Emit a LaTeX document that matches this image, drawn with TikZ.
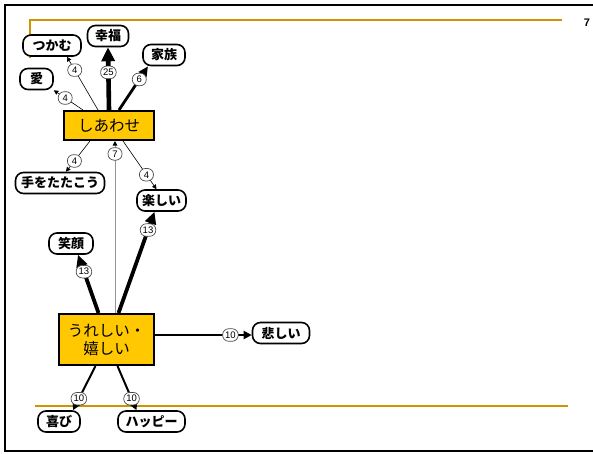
\documentclass[tikz,border=0pt]{standalone}
\usepackage{fontspec}
\setmainfont{Liberation Sans}
\newfontfamily\jp{Noto Sans CJK JP}
\usetikzlibrary{arrows.meta}
\definecolor{hubfill}{RGB}{255,200,0}
\definecolor{rulecol}{RGB}{205,150,0}
\definecolor{weakline}{RGB}{150,150,150}
\tikzset{
  hub/.style={draw=black, line width=2pt, fill=hubfill, font=\jp\fontsize{15.5}{18}\selectfont, inner sep=0pt},
  leaf/.style={draw=black, line width=1.6pt, fill=white, rounded corners=8pt,
    font=\jp\bfseries\fontsize{13}{15}\selectfont, minimum height=21pt, inner xsep=5pt, inner ysep=0pt},
  cnt/.style={draw=black!70, line width=0.7pt, fill=white, rounded corners=6pt,
    font=\fontsize{9.5}{10}\selectfont, minimum height=12.5pt, minimum width=14pt, inner xsep=2.5pt, inner ysep=0pt},
  w1/.style={line width=0.6pt, -{Triangle[length=4.5pt,width=4.5pt]}},
  w2/.style={line width=2pt, -{Triangle[length=8pt,width=8pt]}},
  w3/.style={line width=2.8pt, -{Triangle[length=10pt,width=9pt]}},
  w4/.style={line width=3.8pt, -{Triangle[length=12pt,width=11pt]}},
  w5/.style={line width=4.6pt, -{Triangle[length=14pt,width=13pt]}},
  wg/.style={line width=1pt, draw=weakline, -{Triangle[length=4.5pt,width=4.5pt,color=black]}},
}
\begin{document}
\begin{tikzpicture}[x=1pt,y=-1pt]
\useasboundingbox (0,0) rectangle (593,453);
% page frame and rules
\draw[line width=2.2pt] (600,5) -- (5,5) -- (5,451) -- (600,451);
\draw[rulecol, line width=1.3pt] (30,58) -- (30,20) -- (562,20);
\draw[rulecol, line width=2pt] (35,405.5) -- (568,405.5);
\node[font=\bfseries\fontsize{11}{12}\selectfont] (pg) at (587,23) {7};

% central concepts
\node[hub, minimum width=90pt, minimum height=29pt] (s) at (109,125.5) {しあわせ};
\node[hub, minimum width=95pt, minimum height=51pt, align=center] (u) at (106.5,339.5) {うれしい・\\嬉しい};

% associated words
\node[leaf, minimum width=58pt] (tsukamu) at (52,45.5) {つかむ};
\node[leaf, minimum width=41pt] (koufuku) at (108,36) {幸福};
\node[leaf, minimum width=42pt] (kazoku) at (164,55) {家族};
\node[leaf, minimum width=33pt] (ai) at (36.5,79) {愛};
\node[leaf, minimum width=89pt] (te) at (60,183) {手をたたこう};
\node[leaf, minimum width=49pt] (tanoshii) at (161.5,200.5) {楽しい};
\node[leaf, minimum width=44pt] (egao) at (71,243.5) {笑顔};
\node[leaf, minimum width=57pt] (kanashii) at (281,333) {悲しい};
\node[leaf, minimum width=42pt] (yorokobi) at (59,421.5) {喜び};
\node[leaf, minimum width=67pt] (happy) at (151.5,421.5) {ハッピー};

% links from しあわせ
\draw[w1] ([xshift=-11pt]s.north) -- node[cnt, pos=0.75] {4} ([xshift=15pt]tsukamu.south);
\draw[w1] ([xshift=-26pt]s.north) -- node[cnt, pos=0.61] {4} (ai.south east);
\draw[w5] (s.north) -- node[cnt, pos=0.6] {25} (koufuku.south);
\draw[w3] ([xshift=10pt]s.north) -- node[cnt, pos=0.7] {6} ([xshift=-16pt]kazoku.south);
\draw[w1] ([xshift=-19pt]s.south) -- node[cnt, pos=0.65] {4} ([xshift=6pt]te.north);
\draw[w1] ([xshift=14pt]s.south) -- node[cnt, pos=0.7] {4} ([xshift=-5pt]tanoshii.north);

% links from うれしい・嬉しい
\coordinate (ue) at ([yshift=4.5pt]u.east);
\draw[wg] ([xshift=8.5pt]u.north) -- node[cnt, pos=0.925] {7} ([xshift=6pt]s.south);
\draw[w4] ([xshift=12pt]u.north) -- node[cnt, pos=0.82] {13} ([xshift=-7pt]tanoshii.south);
\draw[w4] ([xshift=-8pt]u.north) -- node[cnt, pos=0.71] {13} ([xshift=7pt]egao.south);
\draw[w2] (ue) -- node[cnt, pos=0.78] {10} (kanashii.west |- ue);
\draw[w2] ([xshift=-11pt]u.south) -- node[cnt, pos=0.74] {10} ([xshift=14pt]yorokobi.north);
\draw[w2] ([xshift=11pt]u.south) -- node[cnt, pos=0.74] {10} ([xshift=-15pt]happy.north);
\end{tikzpicture}
\end{document}
